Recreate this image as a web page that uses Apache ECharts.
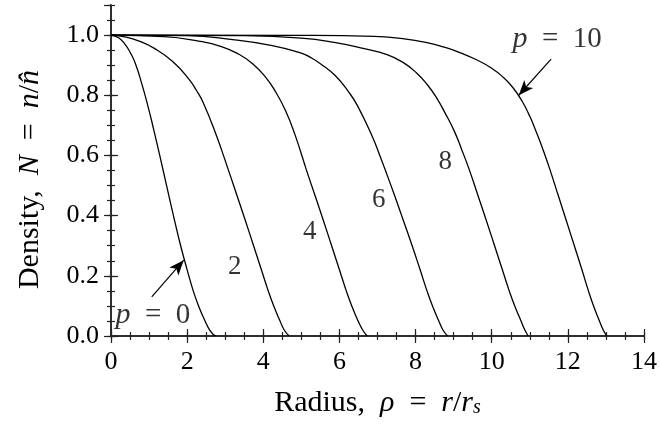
<!DOCTYPE html>
<html>
<head>
<meta charset="utf-8">
<script src="https://cdn.jsdelivr.net/npm/echarts@6/dist/echarts.min.js"></script>
<style>
html, body { margin: 0; padding: 0; background: #fff; }
#container { width: 660px; height: 424px; }
</style>
</head>
<body>
<div id="container"></div>
<script>
// curves, one per p value
var p0X = [0, 0.2, 0.37, 0.5, 0.63, 0.80, 0.97, 1.12, 1.28, 1.46, 1.64, 1.83, 2.00, 2.16, 2.30, 2.47, 2.58, 2.68, 2.76];
var p0Y = [1, 0.991, 0.969, 0.943, 0.909, 0.842, 0.764, 0.687, 0.60, 0.50, 0.40, 0.30, 0.22, 0.15, 0.10, 0.05, 0.022, 0.006, 0];
var p2X = [0, 0.40, 0.72, 1.15, 1.62, 2.05, 2.25, 2.42, 2.74, 3.08, 3.30, 3.52, 3.745, 3.95, 4.13, 4.28, 4.44, 4.55, 4.68];
var p2Y = [1, 0.993, 0.981, 0.955, 0.912, 0.853, 0.815, 0.776, 0.676, 0.553, 0.47, 0.387, 0.30, 0.22, 0.15, 0.098, 0.05, 0.02, 0];
var p4X = [0, 1.4, 2.3, 2.9, 3.35, 3.72, 4.05, 4.33, 4.58, 4.83, 5.13, 5.35, 5.57, 5.795, 6.0, 6.18, 6.33, 6.49, 6.61, 6.73];
var p4Y = [1, 0.995, 0.98, 0.962, 0.937, 0.905, 0.862, 0.81, 0.75, 0.67, 0.553, 0.47, 0.387, 0.30, 0.22, 0.15, 0.098, 0.05, 0.02, 0];
var p6X = [0, 2.0, 3.2, 4.2, 4.96, 5.25, 5.5, 5.9, 6.25, 6.48, 6.86, 7.06, 7.20, 7.44, 7.67, 7.91, 8.12, 8.30, 8.45, 8.61, 8.72, 8.84];
var p6Y = [1, 0.998, 0.985, 0.966, 0.942, 0.925, 0.905, 0.864, 0.81, 0.764, 0.664, 0.60, 0.553, 0.47, 0.387, 0.30, 0.22, 0.15, 0.098, 0.05, 0.02, 0];
var p8X = [0, 3.5, 5.0, 5.9, 6.65, 7.25, 7.66, 8.02, 8.31, 8.56, 8.78, 9.02, 9.21, 9.41, 9.63, 9.85, 10.075, 10.28, 10.46, 10.61, 10.77, 10.87, 10.96];
var p8Y = [1, 0.998, 0.99, 0.975, 0.955, 0.935, 0.91, 0.875, 0.835, 0.79, 0.74, 0.68, 0.62, 0.553, 0.47, 0.387, 0.30, 0.22, 0.15, 0.098, 0.05, 0.02, 0];
var p10X = [0, 5.0, 6.9, 7.6, 8.3, 8.8, 9.2, 9.6, 10.0, 10.30, 10.56, 10.80, 11.00, 11.18, 11.36, 11.53, 11.74, 11.95, 12.17, 12.37, 12.54, 12.68, 12.83, 12.93, 13.02];
var p10Y = [1, 0.999, 0.996, 0.989, 0.975, 0.958, 0.94, 0.918, 0.89, 0.86, 0.825, 0.78, 0.73, 0.675, 0.615, 0.553, 0.47, 0.387, 0.30, 0.22, 0.15, 0.098, 0.05, 0.02, 0];

// curve labels and arrows
var labelText = ['{i|p}{n|  =  0}', '2', '4', '6', '8', '{i|p}{n|  =  10}'];
var labelPos = [[1.10, 0.07], [3.25, 0.23], [5.22, 0.347], [7.03, 0.453], [8.78, 0.577], [11.72, 0.987]];
var arrowFrom = [[1.07, 0.13], [11.56, 0.92]];
var arrowTo = [[1.91, 0.252], [10.71, 0.80]];

var FONT = 'Liberation Serif';

function zip(xs, ys) {
    var out = [];
    for (var i = 0; i < xs.length; i++) out.push([xs[i], ys[i]]);
    return out;
}

var curves = [zip(p0X, p0Y), zip(p2X, p2Y), zip(p4X, p4Y), zip(p6X, p6Y), zip(p8X, p8Y), zip(p10X, p10Y)];

var dom = document.getElementById('container');
var myChart = echarts.init(dom);

var axisLine = {show: true, lineStyle: {color: '#222', width: 1.5}};
var nameRich = {
    a: {fontFamily: FONT, fontSize: 30, color: '#000', lineHeight: 30},
    i: {fontFamily: FONT, fontSize: 30, fontStyle: 'italic', color: '#000', lineHeight: 30},
    s: {fontFamily: FONT, fontSize: 20, fontStyle: 'italic', color: '#000', lineHeight: 12, verticalAlign: 'bottom'}
};

function xAx(pos, minor) {
    return {
        type: 'value', position: pos, min: 0, max: 14, interval: minor ? 0.5 : 2,
        axisLine: minor ? {show: false} : axisLine,
        axisTick: {show: true, inside: true, length: minor ? 4 : 7, lineStyle: {color: '#222', width: 1.2}},
        axisLabel: {show: !minor && pos === 'bottom', fontFamily: FONT, fontSize: 26, color: '#000', margin: 13},
        splitLine: {show: false}
    };
}
function yAx(pos, minor) {
    return {
        type: 'value', position: pos, min: 0, max: 1.1, interval: minor ? 0.05 : 0.2,
        axisLine: minor ? {show: false} : axisLine,
        axisTick: {show: true, inside: true, length: minor ? 4 : 7, lineStyle: {color: '#222', width: 1.2}},
        axisLabel: {
            show: !minor && pos === 'left', fontFamily: FONT, fontSize: 26, color: '#000', margin: 12,
            showMaxLabel: false,
            formatter: function (v) { return v.toFixed(1); }
        },
        splitLine: {show: false}
    };
}

var xs = [xAx('bottom', false), xAx('top', false), xAx('bottom', true), xAx('top', true)];
xs[0].name = '{a|Radius,  }{i|ρ}{a|  =  }{i|r}{a|/}{i|r}{s|s}';
xs[0].nameLocation = 'middle';
xs[0].nameGap = 52;
xs[0].nameTextStyle = {rich: nameRich};

var ys = [yAx('left', false), yAx('right', false), yAx('left', true), yAx('right', true)];
ys[0].name = '{a|Density,  }{i|N}{a|  =  }{i|n}{a|/}{i|n̂}';
ys[0].nameLocation = 'middle';
ys[0].nameGap = 66;
ys[0].nameTextStyle = {rich: nameRich, padding: [0, 18, 0, 0]};

var series = curves.map(function (c) {
    return {
        type: 'line', data: c, showSymbol: false, smooth: 0.5,
        lineStyle: {color: '#000', width: 1.3}, silent: true, z: 3
    };
});

var arrowData = arrowFrom.map(function (f, i) {
    return [{coord: f, symbol: 'none'}, {coord: arrowTo[i], symbol: 'arrow', symbolSize: [9, 15]}];
});
series[0].markLine = {
    silent: true, animation: false, label: {show: false},
    lineStyle: {color: '#000', width: 1.2, type: 'solid'},
    data: arrowData
};

series.push({
    type: 'scatter', symbolSize: 0, silent: true, z: 5,
    data: labelPos.map(function (p, i) { return {value: p, name: labelText[i]}; }),
    label: {
        show: true, position: 'inside',
        formatter: function (d) { return d.name; },
        fontFamily: FONT, fontSize: 27, color: '#000',
        rich: {
            i: {fontFamily: FONT, fontSize: 30, fontStyle: 'italic', color: '#000'},
            n: {fontFamily: FONT, fontSize: 29, color: '#000'}
        }
    }
});

var option = {
    animation: false,
    grid: {left: 111, right: 15, top: 5, bottom: 88},
    xAxis: xs,
    yAxis: ys,
    series: series
};
myChart.setOption(option, true);
</script>
</body>
</html>
